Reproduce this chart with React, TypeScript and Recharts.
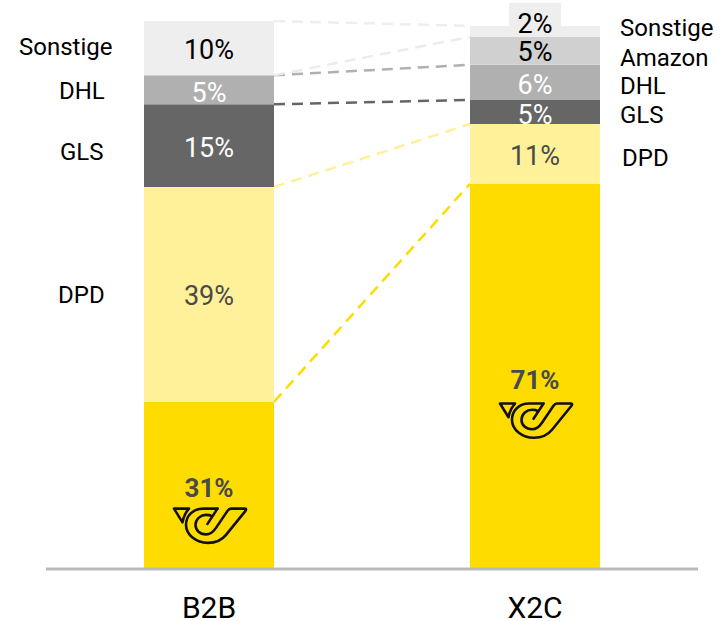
import { BarChart, Bar, XAxis, YAxis, LabelList, usePlotArea } from 'recharts';

const categories = ['B2B', 'X2C'];
const seriesNames = ['Post', 'DPD', 'GLS', 'DHL', 'Amazon', 'Sonstige'];

// shares, the printed labels are rounded
const post = [30.5, 70.3];
const dpd = [39.2, 10.9];
const gls = [15.1, 4.4];
const dhl = [5.3, 6.4];
const amazon = [0, 5.1];
const sonstige = [9.9, 2.0];
const allSeries = [post, dpd, gls, dhl, amazon, sonstige];

const postLabels = ['31%', '71%'];
const dpdLabels = ['39%', '11%'];
const glsLabels = ['15%', '5%'];
const dhlLabels = ['5%', '6%'];
const amazonLabels = ['', '5%'];
const sonstigeLabels = ['10%', '2%'];
const allLabels = [postLabels, dpdLabels, glsLabels, dhlLabels, amazonLabels, sonstigeLabels];

// which stack tops are joined: [series index on B2B, series index on X2C]
const connectorPairs = [[0, 0], [1, 1], [2, 2], [3, 3], [3, 4], [5, 5]];

const FONT = 'Roboto, sans-serif';
const BAR_W = 130;
const colors = ['#ffdc00', '#fff09a', '#666666', '#b0b0b0', '#d0d0d0', '#eeeeee'];
const lineColors = ['#ffdc00', '#fff09a', '#666666', '#b0b0b0', '#ececec', '#eeeeee'];
const valueColors = [
  ['#4a4a4a', '#4a4a4a'],
  ['#4a4a4a', '#4a4a4a'],
  ['#fff', '#fff'],
  ['#fff', '#fff'],
  ['#000', '#000'],
  ['#000', '#000'],
];

// label nudges against the segment centre, px
const valueDy = [
  [0, 0],
  [2, 2],
  [2, 3],
  [3, 3],
  [0, 1],
  [2, -7],
];
const nameStyle = [
  [null, null],
  [{ dx: -86, dy: 1 }, { dx: 152, dy: 4 }],
  [{ dx: -84, dy: 6 }, { dx: 150, dy: 3 }],
  [{ dx: -85, dy: 1 }, { dx: 150, dy: 4 }],
  [null, { dx: 150, dy: 7 }],
  [{ dx: -125, dy: -1 }, { dx: 150, dy: -3 }],
];
const hornGap = [20, 23];

const chartData = categories.map((name, i) => {
  const row: Record<string, number | string> = { name };
  seriesNames.forEach((s, k) => { row[s] = allSeries[k][i]; });
  return row;
});

function PostHorn({ cx, y }: { cx: number; y: number }) {
  return (
    <g transform={`translate(${cx},${y})`} fill="none" stroke="#111" strokeWidth={2.6} strokeLinejoin="round" strokeLinecap="round">
      <path d="M-35,0.8 L-20,0.8 C-23,4 -25.5,9 -26.5,14.5 Z" />
      <path d="M8.5,0.8 L-6,0.8 C-16,0.8 -23,8 -23,17 C-23,27 -13,35 -1,35 C7,35 13,32 17,27 L36.5,3 Q38,0.8 36,0.8 L22,0.8 C20.5,0.8 19.5,1.5 18.5,3 L7,20 C4,24.5 1,26.5 -3,26.5 C-9,26.5 -13.5,22.5 -13.5,17 C-13.5,11 -8,7 -3,7 C-1,7 1,7 2,8" />
      <path d="M8.5,0.8 L-1.5,16" />
    </g>
  );
}

function makeLabel(seriesIdx: number) {
  return function SegmentLabel(props: any) {
    const box = props.viewBox || props;
    const x = Number(box.x);
    const y = Number(box.y);
    const width = Number(box.width);
    const height = Number(box.height);
    // a zero segment gets no label entry, so the plain index can shift: go by the value
    const index = allSeries[seriesIdx].indexOf(Number(props.value));
    if (index < 0 || height <= 0) return null;
    const cx = x + width / 2;
    const cy = y + height / 2;
    const text = allLabels[seriesIdx][index];
    const nameOffset = nameStyle[seriesIdx][index];
    const isPost = seriesIdx === 0;
    const valueY = isPost ? y + (index === 0 ? 86 : 196) : cy + valueDy[seriesIdx][index];
    return (
      <g fontFamily={FONT}>
        {seriesIdx === 5 && index === 1 ? <rect x={cx - 26} y={y - 23} width={52} height={24} fill="#eeeeee" /> : null}
        {text ? (
          <text x={cx} y={valueY} textAnchor="middle" dominantBaseline="central" fontSize={isPost ? 26 : 27} fontWeight={isPost ? 700 : 400} fill={valueColors[seriesIdx][index]}>
            {text}
          </text>
        ) : null}
        {isPost ? <PostHorn cx={cx} y={valueY + hornGap[index]} /> : null}
        {nameOffset ? (
          <text x={x + nameOffset.dx} y={cy + nameOffset.dy} dominantBaseline="central" fontSize={24} fill="#000">
            {seriesNames[seriesIdx]}
          </text>
        ) : null}
      </g>
    );
  };
}

function Connectors() {
  const plot = usePlotArea();
  if (!plot) return null;
  const yOf = (v: number) => plot.y + plot.height * (1 - v / 100);
  const stackTop = (k: number, i: number) => allSeries.slice(0, k + 1).reduce((sum, s) => sum + s[i], 0);
  const step = plot.width / categories.length;
  const x1 = plot.x + step / 2 + BAR_W / 2;
  const x2 = plot.x + step * 1.5 - BAR_W / 2;
  return (
    <g>
      {connectorPairs.map(([a, b], n) => (
        <line key={n} x1={x1} y1={yOf(stackTop(a, 0))} x2={x2} y2={yOf(stackTop(b, 1))} stroke={lineColors[b]} strokeWidth={2.5} strokeDasharray="11 7" />
      ))}
    </g>
  );
}

export default function App() {
  return (
    <div style={{ position: 'absolute', left: 0, top: 0, width: 728, height: 621, background: '#fff' }}>
      <BarChart width={728} height={621} data={chartData} margin={{ top: 21, right: 30, left: 46, bottom: 0 }} barSize={BAR_W}>
        <YAxis hide domain={[0, 100]} />
        <XAxis
          dataKey="name"
          height={52}
          tickLine={false}
          axisLine={{ stroke: '#bbbbbb', strokeWidth: 3 }}
          tick={{ fill: '#000', fontSize: 30, fontFamily: FONT }}
          tickMargin={22}
        />
        <Connectors />
        {seriesNames.map((s, k) => (
          <Bar key={s} dataKey={s} stackId="a" fill={colors[k]} isAnimationActive={false}>
            <LabelList dataKey={s} content={makeLabel(k)} />
          </Bar>
        ))}
      </BarChart>
    </div>
  );
}
